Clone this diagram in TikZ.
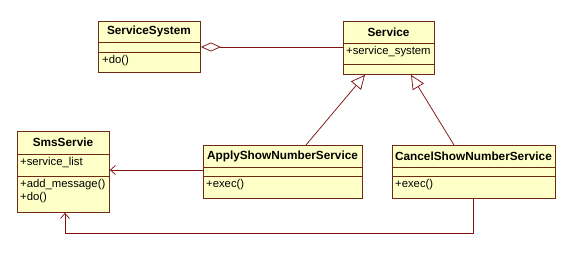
\documentclass[tikz,border=0pt]{standalone}
\usepackage{fontspec}
\setmainfont{Liberation Sans}
\usetikzlibrary{arrows.meta}
\definecolor{boxfill}{RGB}{255,255,200}
\definecolor{boxline}{RGB}{110,40,20}
\definecolor{conline}{RGB}{128,20,20}
\begin{document}
\begin{tikzpicture}[x=1pt,y=-1pt,
  classbox/.style={draw=boxline,fill=boxfill,line width=0.9pt,inner sep=0pt,anchor=north west},
  divider/.style={draw=boxline,line width=0.9pt},
  titletext/.style={font=\fontsize{11.8}{13}\selectfont\bfseries,inner sep=0pt,anchor=center},
  membertext/.style={font=\fontsize{11.3}{13}\selectfont,inner sep=0pt,anchor=north west,align=left},
  conn/.style={draw=conline,line width=0.75pt},
  inherit/.style={conn,-{Triangle[open,length=14pt,width=13pt,fill=white]}},
  assoc/.style={conn,-{Straight Barb[length=5pt,width=9pt,line width=0.75pt]}},
  aggr/.style={conn,{Diamond[open,length=20pt,width=9pt,fill=white]}-}
]
\fill[white] (0,0) rectangle (574,253);
\useasboundingbox (0,0) rectangle (574,253);

% ServiceSystem
\node[classbox,minimum width=102pt,minimum height=51pt] (ss) at (98,21) {};
\draw[divider] (98,42) -- (200,42);
\draw[divider] (98,52) -- (200,52);
\node[titletext] (sst) at (149,31.5) {ServiceSystem};
\node[membertext] (sso) at (102,55) {+do()};

% Service
\node[classbox,minimum width=91pt,minimum height=53pt] (sv) at (343,21) {};
\draw[divider] (343,43) -- (434,43);
\draw[divider] (343,64) -- (434,64);
\node[titletext] (svt) at (388.5,32) {Service};
\node[membertext] (sva) at (346,46) {+service\_system};

% SmsServie
\node[classbox,minimum width=92pt,minimum height=81pt] (sms) at (17,131) {};
\draw[divider] (17,154) -- (109,154);
\draw[divider] (17,176) -- (109,176);
\node[titletext] (smst) at (63,142.5) {SmsServie};
\node[membertext] (smsa) at (20,157) {+service\_list};
\node[membertext] (smso) at (20,179) {+add\_message()\\+do()};

% ApplyShowNumberService
\node[classbox,minimum width=159pt,minimum height=53pt] (ap) at (203,145) {};
\draw[divider] (203,167) -- (362,167);
\draw[divider] (203,176) -- (362,176);
\node[titletext] (apt) at (282.5,156) {ApplyShowNumberService};
\node[membertext] (apo) at (206,179.5) {+exec()};

% CancelShowNumberService
\node[classbox,minimum width=163pt,minimum height=53pt] (cs) at (392,145) {};
\draw[divider] (392,167) -- (555,167);
\draw[divider] (392,176) -- (555,176);
\node[titletext] (cst) at (473.5,156) {CancelShowNumberService};
\node[membertext] (cso) at (395,179.5) {+exec()};

% aggregation
\coordinate (ssr) at ([yshift=-26pt]ss.north east);
\draw[aggr] (ssr) -- (ssr -| sv.west);

% inheritance
\draw[inherit] ([xshift=103pt]ap.north west) -- ([xshift=22pt]sv.south west);
\draw[inherit] ([xshift=62pt]cs.north west) -- ([xshift=68pt]sv.south west);

% associations
\coordinate (apl) at ([yshift=-25pt]ap.north west);
\draw[assoc] (apl) -- (apl -| sms.east);
\coordinate (csb) at ([xshift=81pt]cs.south west);
\coordinate (smsb) at ([xshift=48pt]sms.south west);
\draw[assoc] (csb) -- ++(0,34) -| (smsb);
\end{tikzpicture}
\end{document}
